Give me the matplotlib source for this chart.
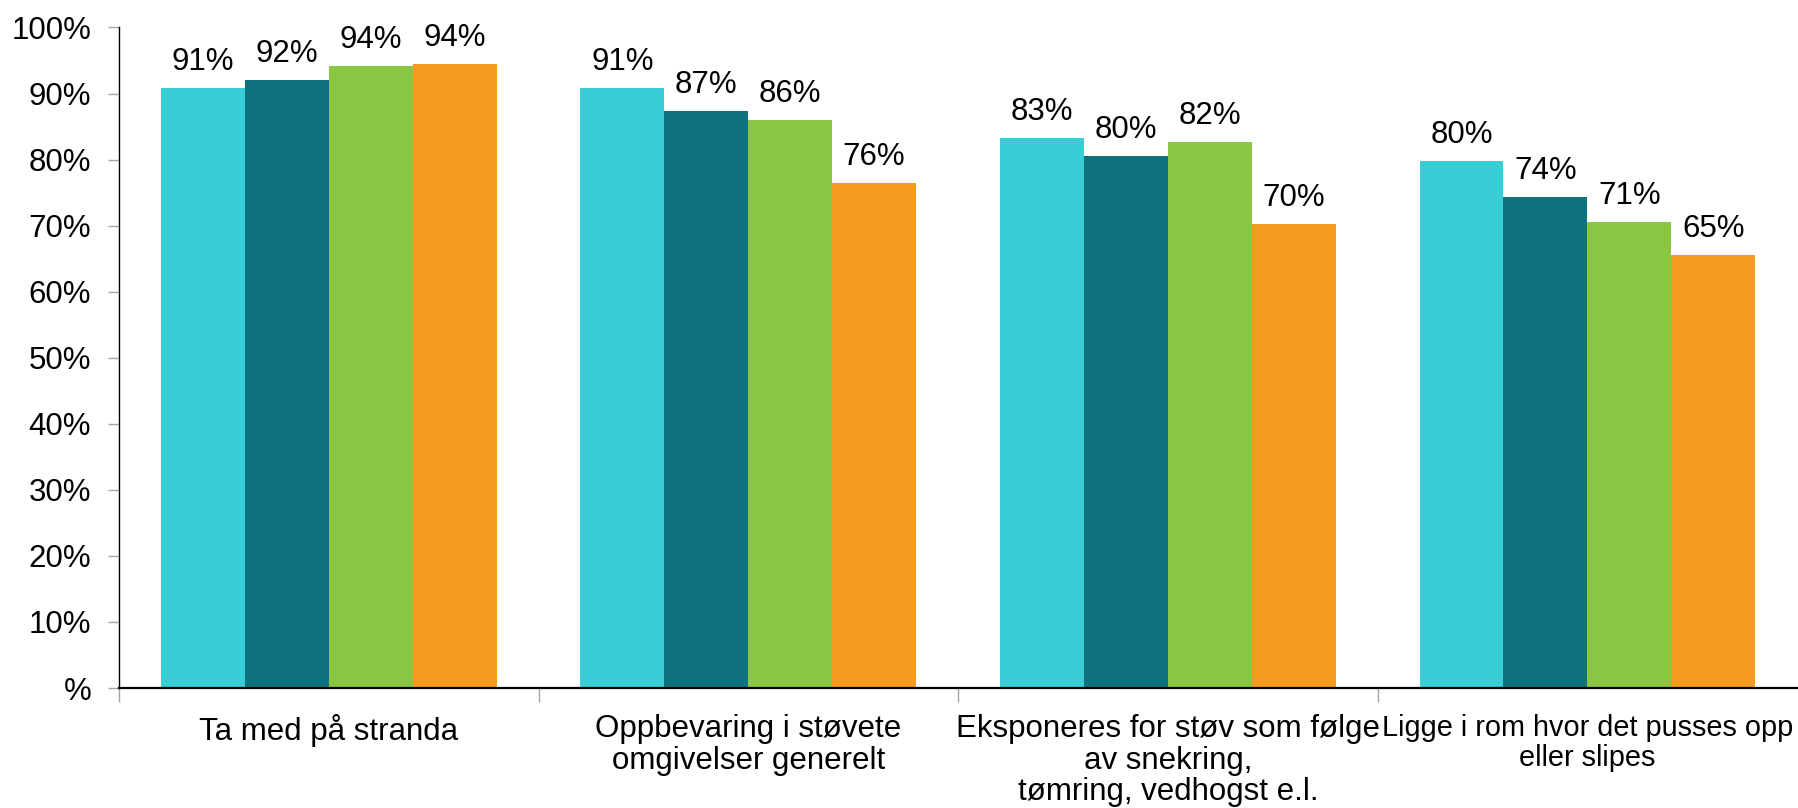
import numpy as np
import matplotlib
matplotlib.use('Agg')
import matplotlib.pyplot as plt
from matplotlib.ticker import FixedLocator

plt.rcParams['font.family'] = ['Liberation Sans', 'DejaVu Sans']

categories = ['Ta med på stranda',
              'Oppbevaring i støvete\nomgivelser generelt',
              'Eksponeres for støv som følge\nav snekring,\ntømring, vedhogst e.l.',
              'Ligge i rom hvor det pusses opp\neller slipes']
series_a = [90.9, 90.8, 83.3, 79.8]
series_b = [92.1, 87.3, 80.5, 74.3]
series_c = [94.2, 86.0, 82.6, 70.6]
series_d = [94.4, 76.5, 70.3, 65.6]
labels_a = ['91%', '91%', '83%', '80%']
labels_b = ['92%', '87%', '80%', '74%']
labels_c = ['94%', '86%', '82%', '71%']
labels_d = ['94%', '76%', '70%', '65%']
yticks = [0, 10, 20, 30, 40, 50, 60, 70, 80, 90, 100]
ytick_labels = ['%', '10%', '20%', '30%', '40%', '50%', '60%', '70%', '80%', '90%', '100%']

colors = ['#38CED6', '#0E737D', '#8BC642', '#F79B1F']
fs = 22.5

fig = plt.figure(figsize=(17.98, 8.08), dpi=100)
ax = fig.add_axes([0.0662, 0.1485, 0.9333, 0.8175])

x = np.arange(len(categories))
width = 0.2
all_series = [series_a, series_b, series_c, series_d]
all_labels = [labels_a, labels_b, labels_c, labels_d]
for i, (vals, labs) in enumerate(zip(all_series, all_labels)):
    pos = x + (i - 1.5) * width
    bars = ax.bar(pos, vals, width=width, color=colors[i], edgecolor='none')
    for b, lab in zip(bars, labs):
        ax.annotate(lab, (b.get_x() + b.get_width() / 2, b.get_height()),
                    xytext=(0, 13), textcoords='offset points',
                    ha='center', va='baseline', fontsize=fs)

ax.set_xlim(-0.5, 3.5)
ax.set_ylim(0, 100)
ax.set_yticks(yticks)
ax.set_yticklabels(ytick_labels, fontsize=fs)
ax.set_xticks(x)
ticklabels = ax.set_xticklabels(categories, fontsize=fs, linespacing=1.05)
# the last label is long; shrink it a bit so it stays inside the figure
ticklabels[-1].set_fontsize(20.8)
ax.xaxis.set_minor_locator(FixedLocator([-0.5, 0.5, 1.5, 2.5]))

ax.tick_params(axis='x', which='major', length=0, pad=19)
ax.tick_params(axis='x', which='minor', length=10, color='#A6A6A6', width=1)
ax.tick_params(axis='y', which='major', length=8, color='#A6A6A6', width=1, pad=12)

for s in ['top', 'right']:
    ax.spines[s].set_visible(False)
ax.spines['left'].set_linewidth(1)
ax.spines['left'].set_color('black')
ax.spines['bottom'].set_linewidth(1.6)
ax.spines['bottom'].set_color('black')

plt.savefig('out.png', dpi=100)
